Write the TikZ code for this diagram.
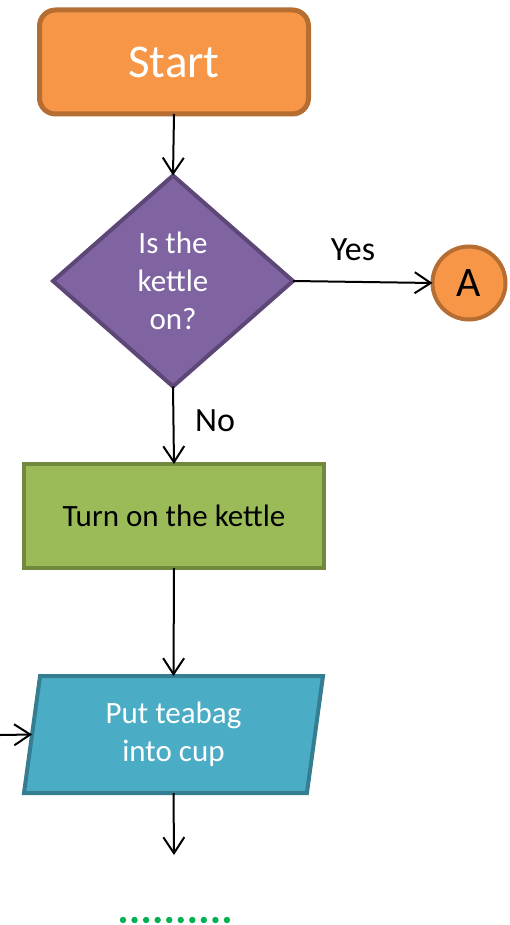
\documentclass[tikz,border=0pt]{standalone}
\usepackage{fontspec}
\setmainfont{Carlito}
\usetikzlibrary{shapes.geometric,arrows.meta}
\definecolor{startfill}{HTML}{F79646}
\definecolor{startline}{HTML}{B66D31}
\definecolor{decfill}{HTML}{8064A2}
\definecolor{decline}{HTML}{5C4776}
\definecolor{procfill}{HTML}{9BBB59}
\definecolor{procline}{HTML}{71893E}
\definecolor{iofill}{HTML}{4BACC6}
\definecolor{ioline}{HTML}{357D91}
\definecolor{dotgreen}{HTML}{00B050}
\begin{document}
\begin{tikzpicture}[x=1pt,y=-1pt,
  every node/.style={outer sep=0pt, inner sep=0pt},
  body/.style={font=\fontsize{31}{38}\selectfont, align=center},
  flow/.style={line width=2pt, -{Straight Barb[length=16pt,width=21pt]}},
  terminal/.style={rectangle, rounded corners=16pt, fill=startfill, draw=startline,
    line width=5pt, minimum width=269pt, minimum height=104pt, text=white,
    font=\fontsize{47}{56}\selectfont},
  decision/.style={diamond, fill=decfill, draw=decline, line width=4pt,
    minimum width=240pt, minimum height=211pt, text=white, body},
  process/.style={rectangle, fill=procfill, draw=procline, line width=4pt,
    minimum width=300pt, minimum height=104pt, text=black, body},
  io/.style={trapezium, trapezium left angle=76, trapezium right angle=104,
    trapezium stretches body, fill=iofill, draw=ioline, line width=4pt,
    minimum width=299pt, minimum height=117pt, text=white, body},
  connector/.style={circle, fill=startfill, draw=startline, line width=4pt,
    minimum size=73pt, text=black, font=\fontsize{42}{50}\selectfont},
  branch/.style={font=\fontsize{34}{40}\selectfont, text=black},
]
\useasboundingbox (0,0) rectangle (509,925);

% shapes
\node[terminal]  (start)  at (174,62)    {Start};
\node[decision]  (kettle) at (173,281)   {Is the\\kettle\\on?};
\node[connector] (a)      at (469,283)   {A};
\node[process]   (turnon) at (174,516)   {Turn on the kettle};
\node[io]        (teabag) at (173.5,734.5) {Put teabag\\into cup};

% free ends
\coordinate (inflow) at (0,735);
\coordinate (outflow) at (174,855);

% connectors
\draw[flow] (start.south) -- (kettle.north);
\draw[flow] (kettle.east) -- (a.west);
\draw[flow] (kettle.south) -- (turnon.north);
\draw[flow] (turnon.south) -- (teabag.north);
\draw[flow] (inflow) -- (teabag.left side);
\draw[flow] (teabag.south) -- (outflow);

% branch labels
\node[branch] (yes) at (353,250) {Yes};
\node[branch] (no)  at (215,421) {No};

% continuation dots
\foreach \i in {0,...,9}
  \fill[dotgreen] (123+11.55*\i,920) circle (3.2pt);
\end{tikzpicture}
\end{document}
